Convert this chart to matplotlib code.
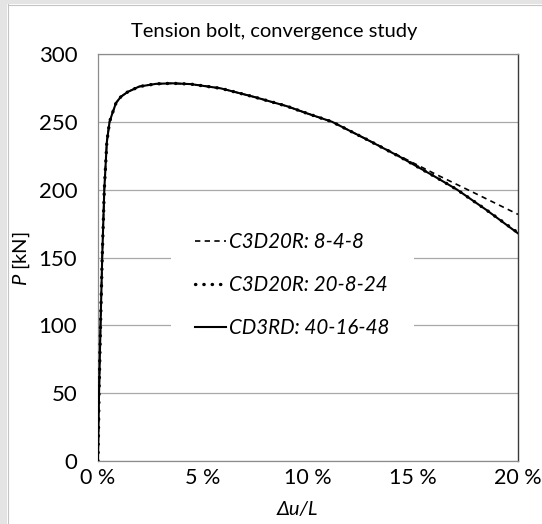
import matplotlib.pyplot as plt
from matplotlib.patches import Rectangle
from matplotlib.ticker import FuncFormatter, MultipleLocator

plt.rcParams['font.family'] = ['Lato', 'DejaVu Sans']
plt.rcParams['mathtext.fontset'] = 'custom'
plt.rcParams['mathtext.it'] = 'Lato:italic'
plt.rcParams['mathtext.rm'] = 'Lato'

# load-displacement curves for the three meshes (strain in %, load in kN)
strain_coarse = [0, 0.05, 0.12, 0.2, 0.3, 0.42, 0.55, 0.7, 0.86, 1.09, 1.41, 1.96, 2.76,
                 3.55, 4.42, 5.84, 7.4, 9.0, 10.0, 11.15, 12.8, 14.4, 16.0, 18.0, 20.0]
load_coarse = [0, 50, 100, 150, 200, 235, 250, 257, 264, 268.5, 272, 276, 278,
               278.4, 277.8, 274.7, 268.5, 261.5, 256, 250, 237, 224.5, 212, 197, 181.8]

strain_medium = [0, 0.05, 0.12, 0.2, 0.3, 0.42, 0.55, 0.7, 0.86, 1.09, 1.41, 1.96, 2.76,
                 3.55, 4.42, 5.84, 7.4, 9.0, 10.0, 11.15, 12.8, 14.4, 16.0, 17.1, 18.5, 20.0]
load_medium = [0, 50, 100, 150, 200, 235, 250, 257, 264, 268.5, 272, 276, 278,
               278.4, 277.8, 274.7, 268.5, 261.5, 256, 250, 237, 224, 210, 200, 185, 168.2]

strain_fine = [0, 0.05, 0.12, 0.2, 0.3, 0.42, 0.55, 0.7, 0.86, 1.09, 1.41, 1.96, 2.76,
               3.55, 4.42, 5.84, 7.4, 9.0, 10.0, 11.15, 12.8, 14.4, 16.0, 17.1, 18.5, 20.0]
load_fine = [0, 50, 100, 150, 200, 235, 250, 257, 264, 268.5, 272, 276, 278,
             278.4, 277.8, 274.7, 268.5, 261.5, 256, 250, 237, 224, 210, 200, 185, 167.8]

series_labels = ['C3D20R: 8-4-8', 'C3D20R: 20-8-24', 'CD3RD: 40-16-48']

W, H = 542, 524
FS = 14.5
fig = plt.figure(figsize=(W / 100, H / 100), dpi=100)

# grey window frame on the left and top edges
fig.patches.append(Rectangle((0, 0), 7 / W, 1, transform=fig.transFigure,
                             facecolor='#e4e4e4', edgecolor='none', zorder=0))
fig.patches.append(Rectangle((0, 1 - 4 / H), 1, 4 / H, transform=fig.transFigure,
                             facecolor='#e4e4e4', edgecolor='none', zorder=0))
fig.add_artist(plt.Line2D([7.5 / W, 7.5 / W], [0, 1 - 4 / H], transform=fig.transFigure,
                          color='#c4c4c4', lw=0.8))
fig.add_artist(plt.Line2D([7.5 / W, 1], [1 - 4.5 / H, 1 - 4.5 / H], transform=fig.transFigure,
                          color='#c4c4c4', lw=0.8))

ax = fig.add_axes([98 / W, 1 - 461 / H, 420 / W, 407 / H])

ax.plot(strain_coarse, load_coarse, color='black', lw=1.2, linestyle=(0, (3.2, 2.6)),
        label=series_labels[0], zorder=3)
ax.plot(strain_medium, load_medium, color='black', lw=2.4, linestyle=(0, (0.1, 2.4)),
        dash_capstyle='round', label=series_labels[1], zorder=4)
ax.plot(strain_fine, load_fine, color='black', lw=1.5, label=series_labels[2], zorder=3)

ax.set_xlim(0, 20)
ax.set_ylim(0, 300)
ax.xaxis.set_major_locator(MultipleLocator(5))
ax.yaxis.set_major_locator(MultipleLocator(50))
ax.xaxis.set_major_formatter(FuncFormatter(lambda v, p: f'{v:.0f} %'))
ax.grid(axis='y', color='#a8a8a8', lw=0.9)
ax.set_axisbelow(True)
ax.tick_params(length=0, colors='black')
ax.tick_params(axis='y', pad=15, labelsize=16)
ax.tick_params(axis='x', pad=5, labelsize=15.5)
for side in ['left', 'top', 'bottom']:
    ax.spines[side].set_color('#8c8c8c')
    ax.spines[side].set_linewidth(0.9)
ax.spines['right'].set_color('#3a3a3a')
ax.spines['right'].set_linewidth(1.0)

leg = ax.legend(loc='center', bbox_to_anchor=(0.463, 0.432), frameon=True,
                fancybox=False, handlelength=1.5, handletextpad=0.15,
                labelspacing=1.12, borderpad=1.2, borderaxespad=0,
                prop={'style': 'italic', 'size': 14.8})
leg.get_frame().set_facecolor('white')
leg.get_frame().set_edgecolor('none')
leg.get_frame().set_alpha(1)

fig.text(274 / W, 1 - 31 / H, 'Tension bolt, convergence study', ha='center', va='center',
         fontsize=FS)
fig.text(297 / W, 1 - 510 / H, 'Δu/L', ha='center', va='center', fontsize=FS,
         style='italic')
fig.text(21 / W, 1 - 259 / H, r'$\it{P}$ [kN]', ha='center', va='center', fontsize=FS,
         rotation=90)

fig.savefig('out.png', dpi=100)
